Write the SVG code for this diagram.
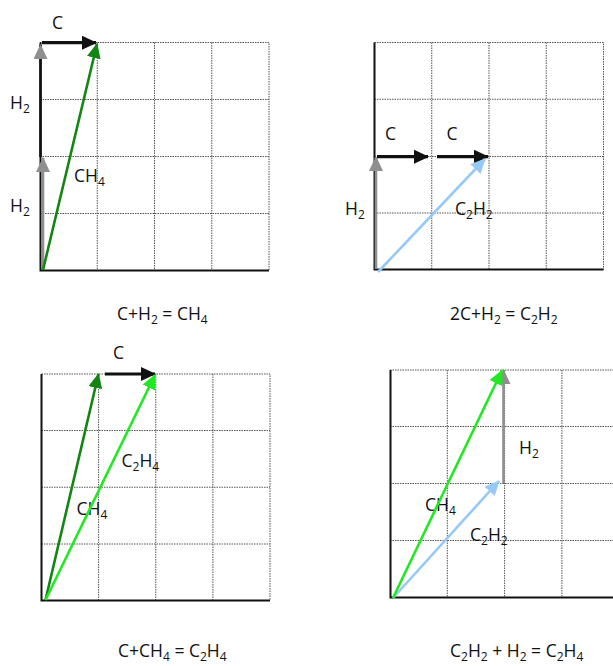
<svg xmlns="http://www.w3.org/2000/svg" width="613" height="666" viewBox="0 0 613 666">
<style>
text{font-family:"Open Sans","Liberation Sans",sans-serif;font-size:17.5px;fill:#111}
.sub{font-size:12px}
.grid{stroke:#555;stroke-width:1;stroke-dasharray:1.5 1;fill:none}
.axis{stroke:#111;stroke-width:2;fill:none}
.a{fill:none;stroke-width:2.6}
.k{stroke:#111;stroke-width:3.2}
.g{stroke:#8f8f8f}
.dg{stroke:#138513}
.lg{stroke:#22e822}
.lb{stroke:#96c9f7}
</style>
<defs>
<marker id="mk" markerUnits="userSpaceOnUse" markerWidth="16" markerHeight="15" refX="14" refY="7" orient="auto"><path d="M0,0 L15,7 L0,14 z" fill="#111"/></marker>
<marker id="mg" markerUnits="userSpaceOnUse" markerWidth="16" markerHeight="15" refX="14" refY="7" orient="auto"><path d="M0,0 L15,7 L0,14 z" fill="#8f8f8f"/></marker>
<marker id="mdg" markerUnits="userSpaceOnUse" markerWidth="16" markerHeight="15" refX="14" refY="7" orient="auto"><path d="M0,0 L15,7 L0,14 z" fill="#138513"/></marker>
<marker id="mlg" markerUnits="userSpaceOnUse" markerWidth="16" markerHeight="15" refX="14" refY="7" orient="auto"><path d="M0,0 L15,7 L0,14 z" fill="#22e822"/></marker>
<marker id="mlb" markerUnits="userSpaceOnUse" markerWidth="16" markerHeight="15" refX="14" refY="7" orient="auto"><path d="M0,0 L15,7 L0,14 z" fill="#96c9f7"/></marker>
</defs>
<rect width="613" height="666" fill="#fff"/>

<g id="panel1">
<path class="grid" d="M40,42.5H269V270.5M97.25,42.5V270.5M154.5,42.5V270.5M211.75,42.5V270.5M40,99.5H269M40,156.5H269M40,213.5H269"/>
<path class="axis" d="M40.5,42.5V270.5H269"/>
<text x="52" y="28.5">C</text>
<text x="10" y="109">H<tspan class="sub" dy="4">2</tspan></text>
<text x="10" y="212">H<tspan class="sub" dy="4">2</tspan></text>
<text x="74" y="182">CH<tspan class="sub" dy="4">4</tspan></text>
<text x="117" y="320">C+H<tspan class="sub" dy="4">2</tspan><tspan dy="-4"> = CH</tspan><tspan class="sub" dy="4">4</tspan></text>
</g>

<g id="panel2">
<path class="grid" d="M374.5,42.5H603.5V269.5M431.75,42.5V269.5M489,42.5V269.5M546.25,42.5V269.5M374.5,99.25H603.5M374.5,156.5H603.5M374.5,213H603.5"/>
<path class="axis" d="M374.5,42.5V269.5H603.5"/>
<text x="385" y="140">C</text>
<text x="446.5" y="140">C</text>
<text x="345" y="215">H<tspan class="sub" dy="4">2</tspan></text>
<text x="455" y="215">C<tspan class="sub" dy="4">2</tspan><tspan dy="-4">H</tspan><tspan class="sub" dy="4">2</tspan></text>
<text x="450" y="320">2C+H<tspan class="sub" dy="4">2</tspan><tspan dy="-4"> = C</tspan><tspan class="sub" dy="4">2</tspan><tspan dy="-4">H</tspan><tspan class="sub" dy="4">2</tspan></text>
</g>

<g id="panel3">
<path class="grid" d="M41.5,374H270V600.5M98.6,374V600.5M155.75,374V600.5M212.9,374V600.5M41.5,430.5H270M41.5,487.25H270M41.5,544H270"/>
<path class="axis" d="M41.5,374V600.5H270"/>
<text x="113" y="359">C</text>
<text x="121.5" y="466.5">C<tspan class="sub" dy="4">2</tspan><tspan dy="-4">H</tspan><tspan class="sub" dy="4">4</tspan></text>
<text x="76.5" y="515">CH<tspan class="sub" dy="4">4</tspan></text>
<text x="118" y="657">C+CH<tspan class="sub" dy="4">4</tspan><tspan dy="-4"> = C</tspan><tspan class="sub" dy="4">2</tspan><tspan dy="-4">H</tspan><tspan class="sub" dy="4">4</tspan></text>
</g>

<g id="panel4">
<path class="grid" d="M390,370H620V597.5M447.3,370V597.5M504.6,370V597.5M561.9,370V597.5M390,426.5H620M390,483.5H620M390,540.5H620"/>
<path class="axis" d="M390.5,370V597.5H620"/>
<text x="519" y="454">H<tspan class="sub" dy="4">2</tspan></text>
<text x="425" y="511">CH<tspan class="sub" dy="4">4</tspan></text>
<text x="470" y="540.5">C<tspan class="sub" dy="4">2</tspan><tspan dy="-4">H</tspan><tspan class="sub" dy="4">2</tspan></text>
<text x="450" y="657">C<tspan class="sub" dy="4">2</tspan><tspan dy="-4">H</tspan><tspan class="sub" dy="4">2</tspan><tspan dy="-4"> + H</tspan><tspan class="sub" dy="4">2</tspan><tspan dy="-4"> = C</tspan><tspan class="sub" dy="4">2</tspan><tspan dy="-4">H</tspan><tspan class="sub" dy="4">4</tspan></text>
</g>

<g id="connectors">
<line class="a g" x1="43" y1="270" x2="43" y2="158" marker-end="url(#mg)"/>
<line class="a" stroke="#111" x1="40.5" y1="157" x2="40.5" y2="45" marker-end="url(#mg)"/>
<line class="a k" x1="42" y1="42.7" x2="96" y2="42.7" marker-end="url(#mk)"/>
<line class="a dg" x1="43" y1="270" x2="97" y2="44" marker-end="url(#mdg)"/>

<line class="a g" x1="376" y1="269" x2="376" y2="157" marker-end="url(#mg)"/>
<line class="a k" x1="377" y1="156.7" x2="428" y2="156.7" marker-end="url(#mk)"/>
<line class="a k" x1="437" y1="156.7" x2="488" y2="156.7" marker-end="url(#mk)"/>
<line class="a lb" x1="378" y1="272" x2="485" y2="159" marker-end="url(#mlb)"/>

<line class="a k" x1="105" y1="374" x2="155" y2="374" marker-end="url(#mk)"/>
<line class="a dg" x1="45.5" y1="600" x2="98.5" y2="374" marker-end="url(#mdg)"/>
<line class="a lg" x1="45.5" y1="600" x2="155" y2="375" marker-end="url(#mlg)"/>

<line class="a g" x1="503.5" y1="483" x2="503.5" y2="370" marker-end="url(#mg)"/>
<line class="a lb" x1="393" y1="598" x2="499" y2="481" marker-end="url(#mlb)"/>
<line class="a lg" x1="393" y1="598" x2="502" y2="370.5" marker-end="url(#mlg)"/>
</g>
</svg>
